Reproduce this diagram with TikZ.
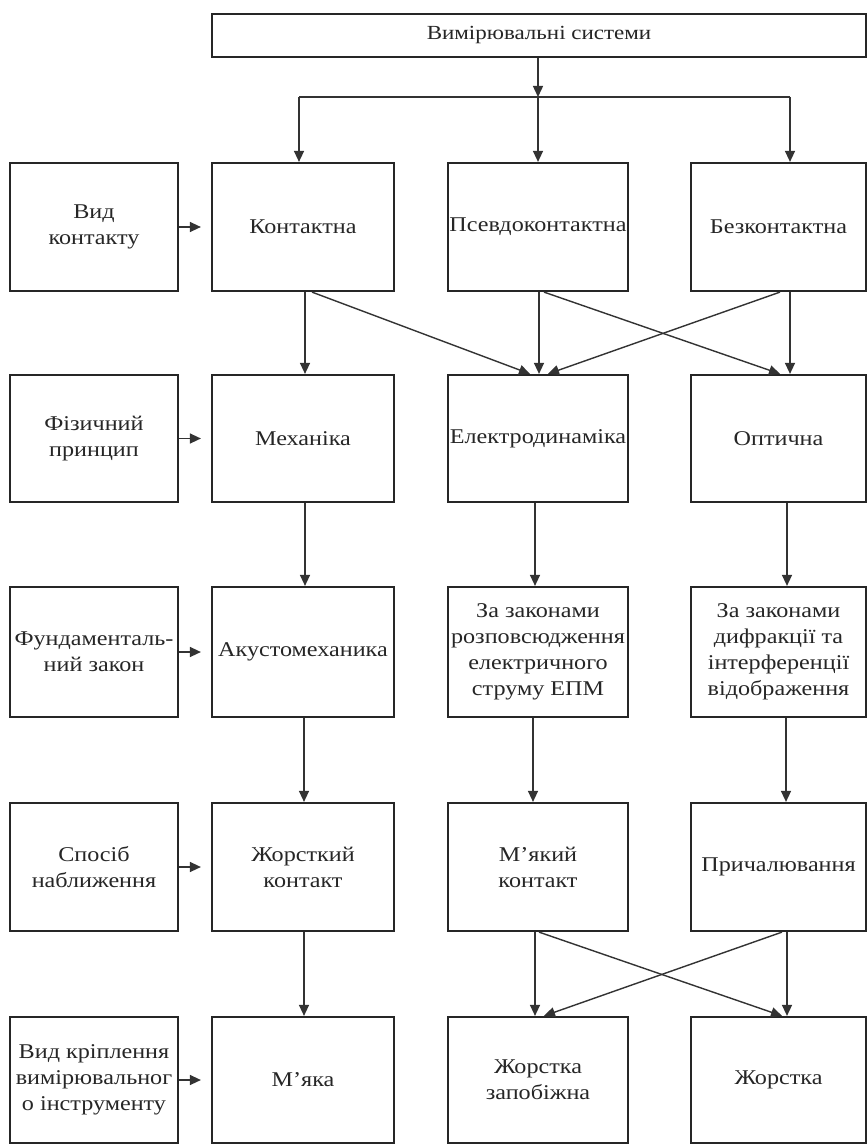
\documentclass[tikz,border=0pt]{standalone}
\usepackage{fontspec}
\setmainfont{Liberation Serif}[FakeStretch=1.15]
\usetikzlibrary{arrows.meta}
\begin{document}
\begin{tikzpicture}[x=1pt,y=-1pt,
  box/.style={draw=black!85,line width=2.2pt,rectangle,inner sep=0.5pt,align=center,
    font=\fontsize{21}{26}\selectfont,text=black!85},
  c0/.style={minimum width=168pt},
  c1/.style={minimum width=182pt},
  c2/.style={minimum width=180pt},
  c3/.style={minimum width=175pt},
  conn/.style={draw=black!80,line width=1.4pt,-{Triangle[length=11pt,width=10pt]}},
  plainline/.style={draw=black!80,line width=1.4pt}]
\fill[white] (0,0) rectangle (867,1145);
\useasboundingbox (0,0) rectangle (867,1145);

\node[box,minimum width=654pt,minimum height=43pt,font=\fontsize{20}{24}\selectfont] (top) at (539,35.5) {Вимірювальні системи};

% row 1
\node[box,c0,minimum height=128pt] (v1) at (94,227) {Вид\\контакту};
\node[box,c1,minimum height=128pt] (k) at (303,227) {Контактна};
\node[box,c2,minimum height=128pt] (pk) at (538,227) {Псевдоконтактна};
\node[box,c3,minimum height=128pt] (bk) at (778.5,227) {Безконтактна};
% row 2
\node[box,c0,minimum height=127pt] (f1) at (94,438.5) {Фізичний\\принцип};
\node[box,c1,minimum height=127pt] (mech) at (303,438.5) {Механіка};
\node[box,c2,minimum height=127pt] (ed) at (538,438.5) {Електродинаміка};
\node[box,c3,minimum height=127pt] (opt) at (778.5,438.5) {Оптична};
% row 3
\node[box,c0,minimum height=130pt] (f2) at (94,652) {Фундаменталь-\\ний закон};
\node[box,c1,minimum height=130pt] (ak) at (303,652) {Акустомеханика};
\node[box,c2,minimum height=130pt] (zz1) at (538,652) {За законами\\розповсюдження\\електричного\\струму ЕПМ};
\node[box,c3,minimum height=130pt] (zz2) at (778.5,652) {За законами\\дифракції та\\інтерференції\\відображення};
% row 4
\node[box,c0,minimum height=128pt] (f3) at (94,867) {Спосіб\\наближення};
\node[box,c1,minimum height=128pt] (zk) at (303,867) {Жорсткий\\контакт};
\node[box,c2,minimum height=128pt] (mk) at (538,867) {М’який\\контакт};
\node[box,c3,minimum height=128pt] (pr) at (778.5,867) {Причалювання};
% row 5
\node[box,c0,minimum height=126pt] (f4) at (94,1080) {Вид кріплення\\вимірювальног\\о інструменту};
\node[box,c1,minimum height=126pt] (mya) at (303,1080) {М’яка};
\node[box,c2,minimum height=126pt] (zhz) at (538,1080) {Жорстка\\запобіжна};
\node[box,c3,minimum height=126pt] (zh) at (778.5,1080) {Жорстка};

% top distribution
\coordinate (j) at (538,97);
\coordinate (jl) at (299,97);
\coordinate (jr) at (790,97);
\draw[conn] (top.south -| j) -- (j);
\draw[plainline] (jl) -- (jr);
\draw[conn] (jl) -- (jl |- k.north);
\draw[conn] (j) -- (j |- pk.north);
\draw[conn] (jr) -- (jr |- bk.north);

% row 1 -> row 2
\draw[conn] ([xshift=2pt]k.south) -- ([xshift=2pt]mech.north);
\draw[conn] ([xshift=9pt]k.south) -- ([xshift=-8pt]ed.north);
\draw[conn] ([xshift=1pt]pk.south) -- ([xshift=1pt]ed.north);
\draw[conn] ([xshift=6pt]pk.south) -- ([xshift=1.5pt]opt.north);
\draw[conn] ([xshift=1.5pt]bk.south) -- ([xshift=10pt]ed.north);
\draw[conn] ([xshift=11.5pt]bk.south) -- ([xshift=11.5pt]opt.north);

% row 2 -> row 3
\draw[conn] ([xshift=2pt]mech.south) -- ([xshift=2pt]ak.north);
\draw[conn] ([xshift=-3pt]ed.south) -- ([xshift=-3pt]zz1.north);
\draw[conn] ([xshift=8.5pt]opt.south) -- ([xshift=8.5pt]zz2.north);

% row 3 -> row 4
\draw[conn] ([xshift=1pt]ak.south) -- ([xshift=1pt]zk.north);
\draw[conn] ([xshift=-5pt]zz1.south) -- ([xshift=-5pt]mk.north);
\draw[conn] ([xshift=7.5pt]zz2.south) -- ([xshift=7.5pt]pr.north);

% row 4 -> row 5
\draw[conn] ([xshift=1pt]zk.south) -- ([xshift=1pt]mya.north);
\draw[conn] ([xshift=-3pt]mk.south) -- ([xshift=-3pt]zhz.north);
\draw[conn] ([xshift=1pt]mk.south) -- ([xshift=3.5pt]zh.north);
\draw[conn] ([xshift=3.5pt]pr.south) -- ([xshift=6pt]zhz.north);
\draw[conn] ([xshift=8.5pt]pr.south) -- ([xshift=8.5pt]zh.north);

% left classifiers
\draw[conn,shorten >=10pt] (v1.east) -- (k.west);
\draw[conn,shorten >=10pt] (f1.east) -- (mech.west);
\draw[conn,shorten >=10pt] (f2.east) -- (ak.west);
\draw[conn,shorten >=10pt] (f3.east) -- (zk.west);
\draw[conn,shorten >=10pt] (f4.east) -- (mya.west);
\end{tikzpicture}
\end{document}
